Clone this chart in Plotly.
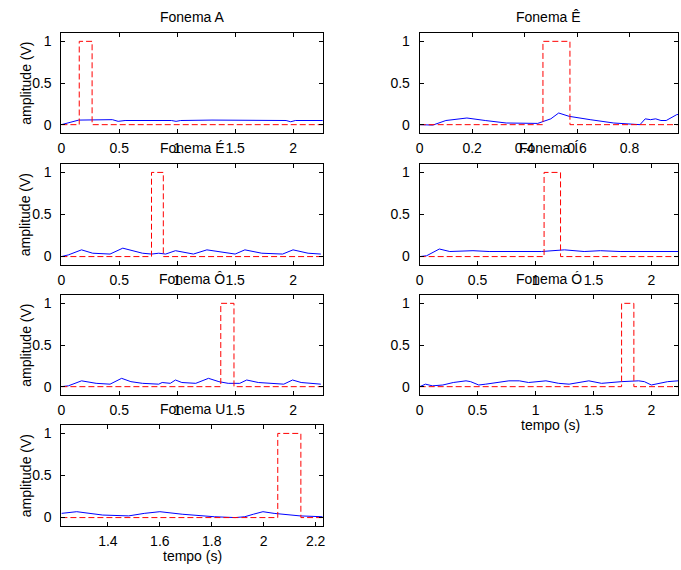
import plotly.graph_objects as go

W, H = 681, 570

# ---------------- data ----------------
titles = ["Fonema A", "Fonema Ê", "Fonema É", "Fonema Í", "Fonema Ô", "Fonema Ó", "Fonema U"]

t_A = [0, 0.15, 0.44, 0.49, 0.55, 0.95, 0.99, 1.03, 1.3, 1.7, 1.94, 1.98, 2.02, 2.26]
v_A = [0, 0.055, 0.06, 0.04, 0.05, 0.05, 0.04, 0.05, 0.055, 0.055, 0.05, 0.035, 0.05, 0.05]

t_Ec = [0, 0.05, 0.1, 0.18, 0.25, 0.33, 0.45, 0.5, 0.53, 0.57, 0.65, 0.74, 0.84, 0.86, 0.88, 0.9, 0.92, 0.94, 0.98, 1.0]
v_Ec = [0, -0.005, 0.05, 0.08, 0.05, 0.02, 0.015, 0.07, 0.14, 0.1, 0.06, 0.02, 0.0, 0.07, 0.06, 0.07, 0.05, 0.05, 0.12, 0.13]

t_Ea = [0, 0.06, 0.174, 0.27, 0.42, 0.53, 0.70, 0.78, 0.84, 0.90, 0.985, 1.07, 1.14, 1.256, 1.44, 1.50, 1.584, 1.73, 1.91, 2.0, 2.13, 2.24]
v_Ea = [0, 0.02, 0.08, 0.04, 0.03, 0.1, 0.04, 0.03, 0.04, 0.03, 0.07, 0.05, 0.03, 0.08, 0.04, 0.03, 0.08, 0.04, 0.03, 0.08, 0.04, 0.03]

t_I = [0, 0.06, 0.17, 0.26, 0.46, 0.6, 1.05, 1.25, 1.42, 1.56, 1.73, 2.23]
v_I = [0, 0.01, 0.09, 0.06, 0.07, 0.06, 0.06, 0.08, 0.06, 0.07, 0.06, 0.06]

t_Oc = [0, 0.06, 0.174, 0.3, 0.42, 0.52, 0.6, 0.70, 0.84, 0.87, 0.94, 0.985, 1.04, 1.16, 1.27, 1.36, 1.44, 1.54, 1.60, 1.70, 1.92, 1.996, 2.07, 2.24]
v_Oc = [0, 0.01, 0.07, 0.04, 0.03, 0.1, 0.06, 0.04, 0.03, 0.05, 0.04, 0.08, 0.05, 0.04, 0.1, 0.06, 0.04, 0.04, 0.08, 0.05, 0.03, 0.08, 0.05, 0.03]

t_Oa = [0, 0.05, 0.11, 0.2, 0.29, 0.4, 0.44, 0.51, 0.57, 0.66, 0.77, 0.86, 0.94, 1.09, 1.2, 1.29, 1.37, 1.46, 1.57, 1.64, 1.74, 1.89, 1.94, 2.0, 2.06, 2.14, 2.23]
v_Oa = [0, 0.03, 0.01, 0.02, 0.05, 0.07, 0.06, 0.02, 0.03, 0.05, 0.07, 0.07, 0.05, 0.07, 0.04, 0.03, 0.05, 0.07, 0.04, 0.05, 0.06, 0.07, 0.06, 0.02, 0.04, 0.06, 0.07]

t_U = [1.221, 1.28, 1.38, 1.48, 1.54, 1.60, 1.686, 1.76, 1.81, 1.89, 1.927, 1.96, 1.997, 2.04, 2.105, 2.14, 2.227]
v_U = [0.05, 0.07, 0.03, 0.02, 0.05, 0.07, 0.04, 0.02, 0.01, 0.0, 0.01, 0.04, 0.07, 0.05, 0.03, 0.02, 0.01]

pulse_start = [0.154, 0.47, 0.778, 1.074, 1.376, 1.743, 2.054]
pulse_end = [0.265, 0.573, 0.88, 1.216, 1.49, 1.849, 2.143]

x_ranges = [[0, 2.256], [0, 0.985], [0, 2.256], [0, 2.23], [0, 2.256], [0, 2.23], [1.221, 2.227]]
x_ticks = [[0, 0.5, 1, 1.5, 2], [0, 0.2, 0.4, 0.6, 0.8], [0, 0.5, 1, 1.5, 2],
           [0, 0.5, 1, 1.5, 2], [0, 0.5, 1, 1.5, 2], [0, 0.5, 1, 1.5, 2],
           [1.4, 1.6, 1.8, 2, 2.2]]
y_ticks = [0, 0.5, 1]
y_range = [-0.1, 1.1]

series = [(t_A, v_A), (t_Ec, v_Ec), (t_Ea, v_Ea), (t_I, v_I), (t_Oc, v_Oc), (t_Oa, v_Oa), (t_U, v_U)]

# ---------------- layout geometry (pixels) ----------------
col_px = [(58, 322), (420, 681)]
row_px = [(33, 133), (164, 265), (295, 395), (425, 526)]

def fmt(v):
    s = ("%g" % v)
    return s

fig = go.Figure()
layout = dict(
    width=W, height=H,
    margin=dict(l=0, r=0, t=0, b=0),
    paper_bgcolor="white", plot_bgcolor="white",
    showlegend=False,
    font=dict(family="Liberation Sans, Arial, sans-serif", size=14, color="black"),
)
annotations = []

for i, (t, v) in enumerate(series):
    r, c = divmod(i, 2)
    x0, x1 = col_px[c]
    y0, y1 = row_px[r]
    n = "" if i == 0 else str(i + 1)
    xa, ya = "x" + n, "y" + n
    fig.add_trace(go.Scatter(x=t, y=v, mode="lines", xaxis=xa, yaxis=ya,
                             line=dict(color="#0000ff", width=1)))
    tmin, tmax = x_ranges[i][0], max(x_ranges[i][1], t[-1])
    px = [tmin, pulse_start[i], pulse_start[i], pulse_end[i], pulse_end[i], tmax]
    py = [0, 0, 1, 1, 0, 0]
    fig.add_trace(go.Scatter(x=px, y=py, mode="lines", xaxis=xa, yaxis=ya,
                             line=dict(color="#ff0000", width=1, dash="6px,3px")))
    common = dict(showline=True, linecolor="black", linewidth=1, mirror="ticks",
                  ticks="inside", ticklen=4, tickcolor="black", tickwidth=1,
                  showgrid=False, zeroline=False,
                  tickfont=dict(size=14, color="black"))
    layout["xaxis" + n] = dict(common, domain=[x0 / W, x1 / W], range=x_ranges[i],
                               anchor=ya, tickvals=x_ticks[i],
                               ticktext=[fmt(k) for k in x_ticks[i]],
                               ticklabelstandoff=2)
    layout["yaxis" + n] = dict(common, domain=[1 - y1 / H, 1 - y0 / H], range=y_range,
                               anchor=xa, tickvals=y_ticks,
                               ticktext=[fmt(k) for k in y_ticks],
                               ticklabelstandoff=6)
    # title
    annotations.append(dict(text=titles[i], xref="paper", yref="paper",
                            x=(x0 + x1) / 2 / W, y=1 - (y0 - 16) / H,
                            xanchor="center", yanchor="middle", showarrow=False,
                            font=dict(size=14, color="black")))
    if c == 0:
        annotations.append(dict(text="amplitude (V)", xref="paper", yref="paper",
                                x=22 / W, y=1 - (y0 + y1) / 2 / H, textangle=-90,
                                xanchor="center", yanchor="middle", showarrow=False,
                                font=dict(size=14, color="black")))
    if i in (5, 6):
        annotations.append(dict(text="tempo (s)", xref="paper", yref="paper",
                                x=((x0 + x1) / 2 if i == 6 else (x0 + 265 / 2)) / W,
                                y=1 - (y1 + 30) / H,
                                xanchor="center", yanchor="middle", showarrow=False,
                                font=dict(size=14, color="black")))

layout["annotations"] = annotations
fig.update_layout(**layout)
fig.write_html("out.html")
